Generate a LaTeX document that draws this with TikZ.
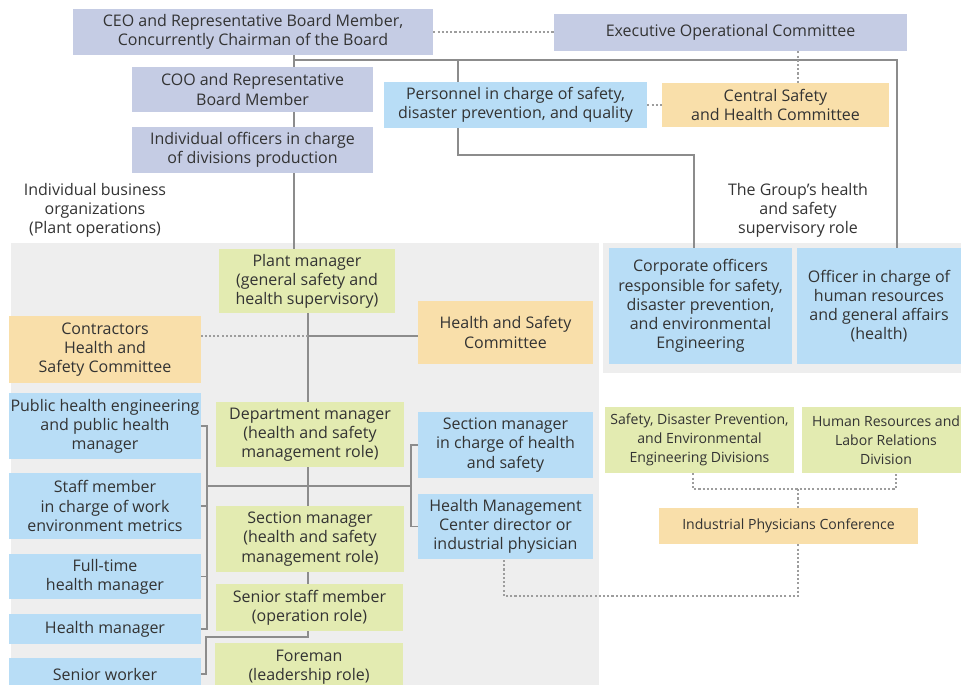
\documentclass[tikz,border=0pt]{standalone}
\usepackage{fontspec}
\setmainfont{Open Sans}
\usetikzlibrary{backgrounds}
\definecolor{cpur}{HTML}{C5CCE4}
\definecolor{cblue}{HTML}{B8DDF6}
\definecolor{corg}{HTML}{F9DFAA}
\definecolor{cgrn}{HTML}{E3EBB1}
\definecolor{cbg}{HTML}{EEEEEE}
\definecolor{cline}{HTML}{8C8C8C}
\definecolor{ctxt}{HTML}{333333}
\newcommand\bx[7]{%
  \pgfmathsetmacro\bxw{(#4-#2)*0.02}\pgfmathsetmacro\bxh{(#5-#3)*0.02}%
  \node[box, fill=#6, minimum width=\bxw cm, minimum height=\bxh cm] (#1) at ({(#2+#4)/2},{(#3+#5)/2}) {#7};}
\newcommand\smf{\fontsize{8}{10.5}\selectfont}
\begin{document}
\begin{tikzpicture}[x=0.02cm,y=-0.02cm, font=\fontsize{9.1}{10.9}\selectfont,
  box/.style={inner sep=0pt, align=center, text=ctxt},
  ln/.style={draw=cline, line width=0.7pt},
  dl/.style={draw=cline!85, line width=0.8pt, dash pattern=on 1.2pt off 1.2pt},
  lbl/.style={align=center, text=ctxt}]
\clip (0,0) rectangle (961,684);
% boxes
\bx{ceo}{73}{9}{433}{55}{cpur}{CEO and Representative Board Member,\\Concurrently Chairman of the Board}
\bx{exec}{554}{14}{907}{51}{cpur}{Executive Operational Committee}
\bx{coo}{132}{67}{373}{112}{cpur}{COO and Representative\\Board Member}
\bx{indiv}{132}{127}{373}{173}{cpur}{Individual officers in charge\\of divisions production}
\bx{pers}{384}{82}{647}{128}{cblue}{Personnel in charge of safety,\\disaster prevention, and quality}
\bx{central}{662}{83}{889}{127}{corg}{Central Safety\\and Health Committee}
\node[lbl] (lblleft) at (95,210) {Individual business\\organizations\\(Plant operations)};
\node[lbl] (lblright) at (798,210) {The Group’s health\\and safety\\supervisory role};
\bx{corp}{609}{248}{792}{364}{cblue}{Corporate officers\\responsible for safety,\\disaster prevention,\\and environmental\\Engineering}
\bx{hro}{797}{248}{961}{364}{cblue}{Officer in charge of\\human resources\\and general affairs\\(health)}
\bx{plant}{219}{249}{395}{313}{cgrn}{Plant manager\\(general safety and\\health supervisory)}
\bx{contr}{9}{316}{201}{383}{corg}{Contractors\\Health and\\Safety Committee}
\bx{hsc}{418}{301}{593}{364}{corg}{Health and Safety\\Committee}
\bx{pub}{9}{393}{201}{459}{cblue}{Public health engineering\\and public health\\manager}
\bx{staff}{9}{473}{201}{539}{cblue}{Staff member\\in charge of work\\environment metrics}
\bx{full}{9}{554}{201}{599}{cblue}{Full-time\\health manager}
\bx{hm}{9}{614}{201}{644}{cblue}{Health manager}
\bx{sw}{9}{658}{201}{690}{cblue}{Senior worker}
\bx{dept}{216}{402}{404}{467}{cgrn}{Department manager\\(health and safety\\management role)}
\bx{secm}{418}{412}{593}{478}{cblue}{Section manager\\in charge of health\\and safety}
\bx{hmc}{418}{494}{593}{559}{cblue}{Health Management\\Center director or\\industrial physician}
\bx{smgr}{216}{506}{404}{572}{cgrn}{Section manager\\(health and safety\\management role)}
\bx{senior}{216}{584}{403}{631}{cgrn}{Senior staff member\\(operation role)}
\bx{fore}{215}{643}{403}{691}{cgrn}{Foreman\\(leadership role)}
\bx{sdiv}{605}{407}{794}{473}{cgrn}{\smf Safety, Disaster Prevention,\\\smf and Environmental\\\smf Engineering Divisions}
\bx{hrdiv}{802}{407}{970}{473}{cgrn}{\smf Human Resources and\\\smf Labor Relations\\\smf Division}
\bx{ipc}{659}{508}{918}{544}{corg}{\smf Industrial Physicians Conference}
% helper coordinates
\coordinate (tr) at (294,60);
\coordinate (tr2) at (458,60);
\coordinate (tre) at (897,60);
\coordinate (pk) at (458,155);
\coordinate (ck) at (694,155);
\coordinate (cx) at (798,0);
\coordinate (v) at (308,336);
\coordinate (bxl) at (207,486);
\coordinate (bxr) at (411,486);
\coordinate (fy) at (206,637);
\coordinate (dj) at (693,489);
\coordinate (dk) at (896,489);
\coordinate (dm) at (798,489);
\coordinate (dq) at (798,596);
\coordinate (dr) at (504,596);
\begin{scope}[on background layer]
\fill[cbg] (11,243) rectangle (599,690);
\fill[cbg] (603,243) rectangle (961,373);
% solid connectors
\draw[ln] (ceo.south -| tr) -- (plant.north -| tr);
\draw[ln] (tr) -- (tre) -- (hro.north -| tre);
\draw[ln] (tr2) -- (pk) -- (ck) -- (corp.north -| ck);
\draw[ln] (plant.south -| v) -- (dept.north -| v);
\draw[ln] (v) -- (v -| hsc.west);
\draw[ln] (dept.south -| v) -- (smgr.north -| v);
\draw[ln] (smgr.south -| v) -- (senior.north -| v);
\draw[ln] (senior.south -| v) |- (fy) -- (fy |- sw.east) -- (sw.east);
\draw[ln] (pub.east) -- (pub.east -| bxl) -- (hm.east -| bxl) -- (hm.east);
\draw[ln] (staff.east) -- (staff.east -| bxl);
\draw[ln] (full.east) -- (full.east -| bxl);
\draw[ln] (bxl) -- (bxr);
\draw[ln] (secm.west) -- (secm.west -| bxr) -- (hmc.west -| bxr) -- (hmc.west);
% dotted connectors
\draw[dl] (ceo.east) -- (ceo.east -| exec.west);
\draw[dl] (exec.south -| cx) -- (central.north -| cx);
\draw[dl] (pers.east) -- (central.west);
\draw[dl] (v) -- (v -| contr.east);
\draw[dl] (sdiv.south -| dj) -- (dj) -- (dk) -- (hrdiv.south -| dk);
\draw[dl] (dm) -- (ipc.north -| dm);
\draw[dl] (ipc.south -| dq) -- (dq) -- (dr) -- (hmc.south -| dr);
\end{scope}
\end{tikzpicture}
\end{document}
